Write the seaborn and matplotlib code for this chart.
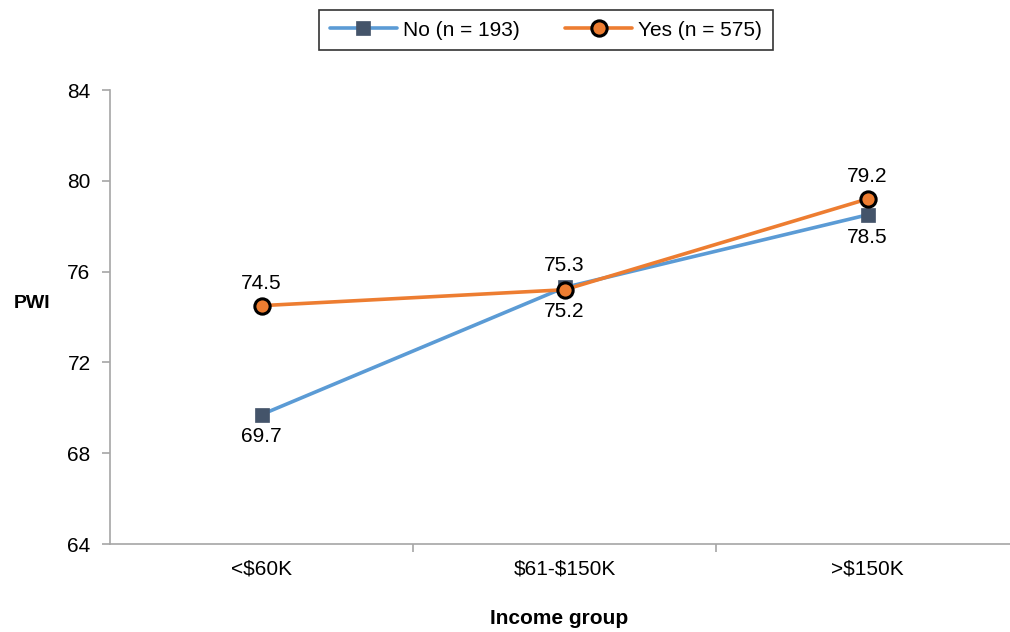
import matplotlib
matplotlib.use("Agg")
import matplotlib.pyplot as plt
import seaborn as sns
import pandas as pd

# Data
income_groups = ["<$60K", "$61-$150K", ">$150K"]
no_values = [69.7, 75.3, 78.5]
yes_values = [74.5, 75.2, 79.2]
no_label = "No (n = 193)"
yes_label = "Yes (n = 575)"
no_label_side = [-1, 1, -1]   # -1 below, 1 above
yes_label_side = [1, -1, 1]
y_ticks = [64, 68, 72, 76, 80, 84]

sns.set_theme(style="white")
plt.rcParams["font.family"] = ["Liberation Sans", "DejaVu Sans"]
plt.rcParams["text.parse_math"] = False
plt.rcParams["text.color"] = "black"
plt.rcParams["axes.labelcolor"] = "black"

df_no = pd.DataFrame({"group": income_groups, "PWI": no_values})
df_yes = pd.DataFrame({"group": income_groups, "PWI": yes_values})

fig = plt.figure(figsize=(10.10, 6.32), dpi=100)
W, H = 1010, 632
ax_w = 1019 - 110
ax_h = 544 - 90
ax = fig.add_axes([110 / W, (H - 544) / H, ax_w / W, ax_h / H])

sns.lineplot(data=df_no, x="group", y="PWI", ax=ax, color="#5B9BD5", lw=2.6,
             marker="s", markersize=10, markerfacecolor="#44546A",
             markeredgecolor="#44546A", markeredgewidth=0.5, label=no_label,
             sort=False)
sns.lineplot(data=df_yes, x="group", y="PWI", ax=ax, color="#ED7D31", lw=2.6,
             marker="o", markersize=11, markerfacecolor="#ED7D31",
             markeredgecolor="black", markeredgewidth=2.2, label=yes_label,
             sort=False)

for i, (v, s) in enumerate(zip(no_values, no_label_side)):
    ax.annotate(f"{v:.1f}", (i, v), xytext=(0, 16 * s), textcoords="offset points",
                ha="center", va="center", fontsize=15, color="black")
for i, (v, s) in enumerate(zip(yes_values, yes_label_side)):
    ax.annotate(f"{v:.1f}", (i, v), xytext=(0, 16 * s), textcoords="offset points",
                ha="center", va="center", fontsize=15, color="black")

ax.set_xlim(-0.5, 2.5)
ax.set_ylim(64, 84)
ax.set_yticks(y_ticks)
ax.set_xticks(range(len(income_groups)))
ax.set_xticklabels(income_groups)
ax.set_xticks([0.5, 1.5], minor=True)

spine_color = "#A6A6A6"
for side in ["top", "right"]:
    ax.spines[side].set_visible(False)
for side in ["left", "bottom"]:
    ax.spines[side].set_color(spine_color)
    ax.spines[side].set_linewidth(1.2)

ax.tick_params(axis="y", which="major", left=True, length=6, width=1.2,
               color=spine_color, labelsize=15, labelcolor="black", pad=8)
ax.tick_params(axis="x", which="major", bottom=False, length=0,
               labelsize=15, labelcolor="black", pad=11)
ax.tick_params(axis="x", which="minor", bottom=True, length=6, width=1.2,
               color=spine_color)

ax.set_xlabel("Income group", fontsize=15, fontweight="bold", va="center",
              color="black")
ax.xaxis.set_label_coords((559 - 110) / ax_w, -(618 - 544) / ax_h)
ax.set_ylabel("PWI", fontsize=14, fontweight="bold", rotation=0,
              ha="center", va="center", color="black")
ax.yaxis.set_label_coords(-(110 - 32) / ax_w, (544 - 303) / ax_h)

leg = ax.legend(loc="center", bbox_to_anchor=(546 / W, 1 - 30 / H),
                bbox_transform=fig.transFigure, ncol=2, frameon=True,
                fancybox=False, fontsize=15, handlelength=3.2,
                columnspacing=2.2, borderpad=0.5, handletextpad=0.3)
leg.get_frame().set_edgecolor("black")
leg.get_frame().set_linewidth(1.2)
for t in leg.get_texts():
    t.set_color("black")

fig.savefig("out.png", dpi=100)
